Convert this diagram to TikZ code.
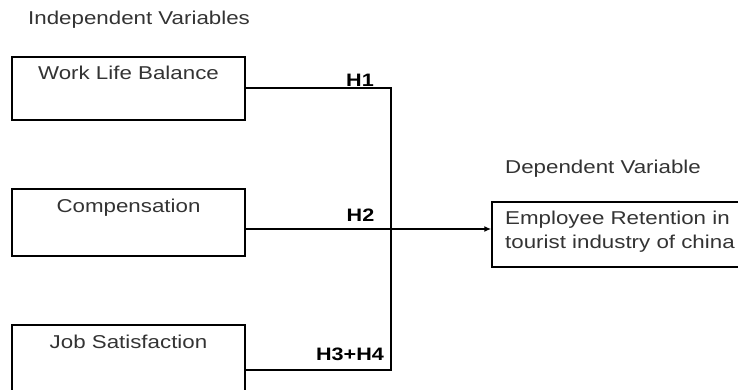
\documentclass[tikz,border=0pt]{standalone}
\usepackage{fontspec}
\setmainfont{Liberation Sans}[FakeStretch=1.2]
\usetikzlibrary{arrows.meta}
\definecolor{txtgrey}{HTML}{333333}
\begin{document}
\begin{tikzpicture}[x=1pt,y=-1pt,
  every node/.style={font=\fontsize{18.6}{22}\selectfont},
  varbox/.style={draw=black, line width=1.5pt, minimum width=233pt, inner sep=0pt},
  boxtext/.style={text=txtgrey, inner sep=0pt},
  hlab/.style={font=\fontsize{18}{20}\selectfont\bfseries, inner sep=0pt},
  heading/.style={text=txtgrey, inner sep=0pt, anchor=base west},
  conn/.style={line width=1.5pt}
]
\useasboundingbox (0,0) rectangle (738,389);
\clip (0,0) rectangle (738,389);

\node[heading] (indep) at (28,24.5) {Independent Variables};
\node[heading] (dep) at (505,173.5) {Dependent Variable};

\node[varbox, minimum height=63pt] (wlb) at (128.5,88.5) {};
\node[boxtext, anchor=base] (wlbt) at (128.5,79.5) {Work Life Balance};

\node[varbox, minimum height=67pt] (comp) at (128.5,222.5) {};
\node[boxtext, anchor=base] (compt) at (128.5,212.5) {Compensation};

\node[varbox, minimum height=80pt] (js) at (128.5,365) {};
\node[boxtext, anchor=base] (jst) at (128.5,348.5) {Job Satisfaction};

\node[draw=black, line width=1.5pt, minimum width=260pt, minimum height=65pt, inner sep=0pt] (er) at (622,234.5) {};
\node[boxtext, anchor=base west] (ert1) at (505,224.5) {Employee Retention in};
\node[boxtext, anchor=base west] (ert2) at (505,248.5) {tourist industry of china};

\coordinate (top) at (391,88);
\coordinate (bot) at (391,370);
\coordinate (mid) at (391,229);

\draw[conn] (wlb.east |- top) -- (top) -- (bot) -- (js.east |- bot);
\draw[conn, -{Latex[length=7pt,width=6pt]}] (comp.east |- mid) -- (er.west |- mid);

\node[hlab, anchor=base] (h1) at (360,86) {H1};
\node[hlab, anchor=base] (h2) at (360.5,221) {H2};
\node[hlab, anchor=base] (h34) at (350,360) {H3+H4};
\end{tikzpicture}
\end{document}
